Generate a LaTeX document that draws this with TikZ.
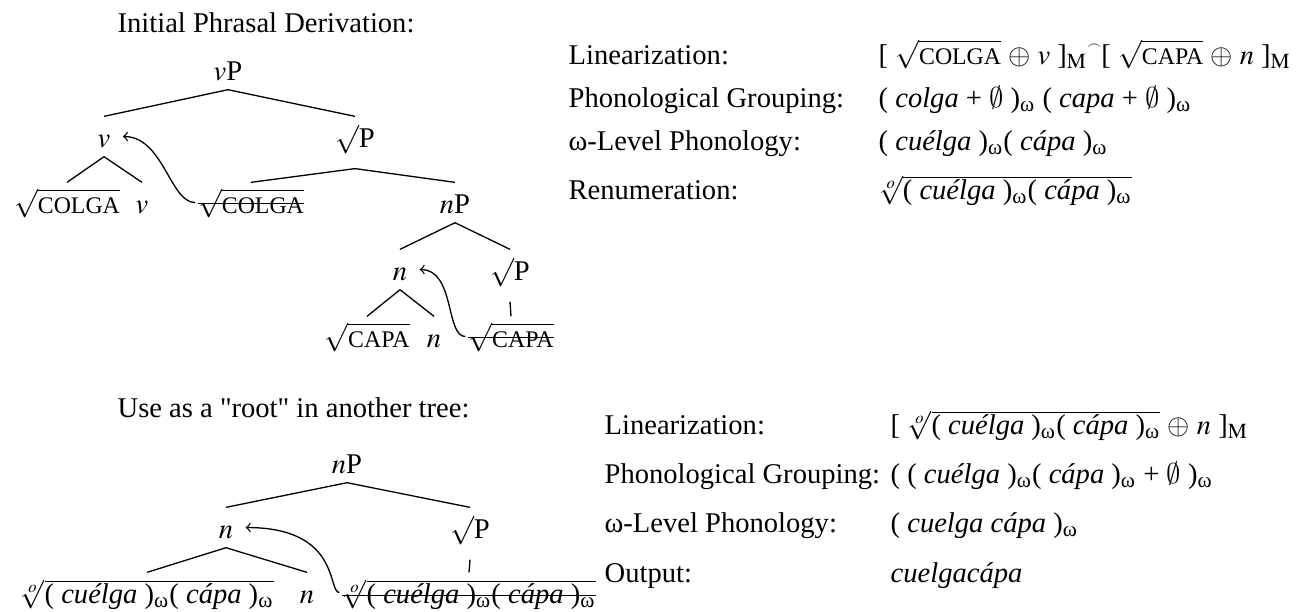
\documentclass[tikz,border=0pt,12pt]{standalone}
\usepackage{mathptmx}
\usepackage{fontspec}
\setmainfont{Liberation Serif}

\newcommand{\smcap}[1]{{\fontsize{10}{11}\selectfont #1}}
\newcommand{\omsub}{\textsubscript{ω}}
\newcommand{\nul}{{\usefont{OMS}{cmsy}{m}{n}\char"3B}}
\newcommand{\concat}{\raisebox{1.1ex}{\scalebox{0.5}{$\frown$}}}
\newcommand{\rtexpr}{$\sqrt[\mathit{o}]{\mbox{( \textit{cuélga} )\omsub( \textit{cápa} )\omsub}}$}
\newsavebox{\strikebox}
\newcommand{\struck}[2][0.3em]{\sbox{\strikebox}{#2}\rlap{\usebox{\strikebox}}\rule[#1]{\wd\strikebox}{0.5pt}}

\tikzset{
  tnode/.style={anchor=base, inner xsep=1pt, inner ysep=0.8pt, text height=11.8pt, text depth=3pt},
  rootp/.style={text depth=8pt},
  row/.style={anchor=base west, inner sep=0pt},
  move/.style={->, shorten >=4pt},
}

\begin{document}
\begin{tikzpicture}[x=0.42pt, y=-0.42pt, line width=0.55pt]

    \useasboundingbox (0,0) rectangle (1298,611);

    % Primer árbol
    \node[row] (title1) at (117,32) {Initial Phrasal Derivation:};

    \node[tnode] (vP) at (228,80) {$v$P};
    \node[tnode] (v) at (104,147) {$v$};
    \node[tnode, rootp] (rP) at (355,147) {$\surd$P};
    \node[tnode] (colga) at (67,213) {$\sqrt{\mbox{\smcap{COLGA}}}$};
    \node[tnode] (vhead) at (142,213) {$v$};
    \node[tnode] (colgaT) at (251,213) {\struck{$\sqrt{\mbox{\smcap{COLGA}}}$}};
    \node[tnode] (nP) at (455,213) {$n$P};
    \node[tnode] (n) at (400,280) {$n$};
    \node[tnode, rootp] (rPb) at (510,280) {$\surd$P};
    \node[tnode] (capa) at (367,347) {$\sqrt{\mbox{\smcap{CAPA}}}$};
    \node[tnode] (nhead) at (434,347) {$n$};
    \node[tnode] (capaT) at (511,347) {\struck{$\sqrt{\mbox{\smcap{CAPA}}}$}};

    \draw (vP.south) -- (v.north);
    \draw (vP.south) -- (rP.north);
    \draw (v.south) -- (colga.north);
    \draw (v.south) -- (vhead.north);
    \draw (rP.south) -- (colgaT.north);
    \draw (rP.south) -- (nP.north);
    \draw (nP.south) -- (n.north);
    \draw (nP.south) -- (rPb.north);
    \draw (n.south) -- (capa.north);
    \draw (n.south) -- (nhead.north);
    \draw (rPb.south) -- (capaT.north);

    % Movimientos
    \draw[move] (colgaT.west) .. controls +(-25,0) and +(50,0) .. (v.east);
    \draw[move] (capaT.west) .. controls +(-20,0) and +(45,0) .. (n.east);

    % Derivación del primer árbol
    \node[row] (lin1) at (568,64) {Linearization:};
    \node[row] (grp1) at (568,107) {Phonological Grouping:};
    \node[row] (pho1) at (568,150) {ω-Level Phonology:};
    \node[row] (ren1) at (568,199) {Renumeration:};

    \node[row] (lin1f) at (878,64) {[ $\sqrt{\mbox{\smcap{COLGA}}}$ $\oplus$ $v$ ]$_{\mathrm{M}}$\concat[ $\sqrt{\mbox{\smcap{CAPA}}}$ $\oplus$ $n$ ]$_{\mathrm{M}}$};
    \node[row] (grp1f) at (878,107) {( \textit{colga} + \nul{} )\omsub{} ( \textit{capa} + \nul{} )\omsub};
    \node[row] (pho1f) at (878,150) {( \textit{cuélga} )\omsub( \textit{cápa} )\omsub};
    \node[row] (ren1f) at (878,199) {\rtexpr};

    % Segundo árbol
    \node[row] (title2) at (117,417) {Use as a \textquotedbl root\textquotedbl{} in another tree:};

    \node[tnode] (nP2) at (347,473) {$n$P};
    \node[tnode] (n2) at (226,538) {$n$};
    \node[tnode, rootp] (rP2) at (470,538) {$\surd$P};
    \node[tnode] (root) at (147,603) {\rtexpr};
    \node[tnode] (nhead2) at (307,603) {$n$};
    \node[tnode] (rootT) at (469,603) {\struck[0.25em]{\rtexpr}};

    \draw (nP2.south) -- (n2.north);
    \draw (nP2.south) -- (rP2.north);
    \draw (n2.south) -- (root.north);
    \draw (n2.south) -- (nhead2.north);
    \draw (rP2.south) -- (rootT.north);

    \draw[move] (rootT.west) .. controls +(-12,0) and +(105,0) .. (n2.east);

    % Derivación del segundo árbol
    \node[row] (lin2) at (604,434) {Linearization:};
    \node[row] (grp2) at (604,483) {Phonological Grouping:};
    \node[row] (pho2) at (604,532) {ω-Level Phonology:};
    \node[row] (out2) at (604,582) {Output:};

    \node[row] (lin2f) at (890,434) {[ \rtexpr{} $\oplus$ $n$ ]$_{\mathrm{M}}$};
    \node[row] (grp2f) at (890,483) {( ( \textit{cuélga} )\omsub( \textit{cápa} )\omsub{} + \nul{} )\omsub};
    \node[row] (pho2f) at (890,532) {( \textit{cuelga cápa} )\omsub};
    \node[row] (out2f) at (890,582) {\textit{cuelgacápa}};

\end{tikzpicture}
\end{document}
